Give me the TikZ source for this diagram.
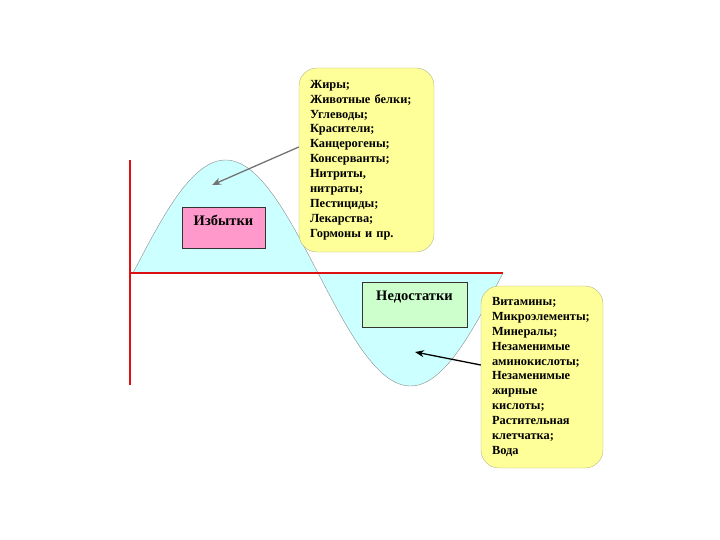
\documentclass[tikz,border=0pt]{standalone}
\usepackage{fontspec}
\setmainfont{Liberation Serif}
\usetikzlibrary{arrows.meta}
\definecolor{wavefill}{HTML}{CCFFFF}
\definecolor{notefill}{HTML}{FFFF99}
\definecolor{notedraw}{HTML}{B5B58A}
\definecolor{excessfill}{HTML}{FF99CC}
\definecolor{lackfill}{HTML}{CCFFCC}
\definecolor{axisred}{HTML}{DD1111}
\begin{document}
\begin{tikzpicture}[x=1pt, y=-1pt,
            note/.style = {draw=notedraw, fill=notefill, rounded corners=18pt,
                align=left, inner xsep=11pt, inner ysep=0pt,
                font=\bfseries\fontsize{12.4}{14.9}\selectfont},
            tag/.style = {draw=black!80, inner xsep=0pt, inner ysep=4pt,
                text height=14pt, font=\bfseries\fontsize{14.5}{16}\selectfont},
            axis/.style = {draw=axisred, line width=2.8pt},
            pointer/.style = {-{Stealth[length=9pt,width=7pt]}, line width=1.3pt}]
            \useasboundingbox (0,0) rectangle (720,540);
            % wave
            \filldraw[fill=wavefill, draw=black!45, line width=0.4pt]
                plot[domain=0:360, samples=120] ({133+\x*1.02778},{273-113*sin(\x)}) -- cycle;
            \coordinate (origin) at (130,273);
            \coordinate (top) at (130,160);
            \coordinate (bottom) at (130,385);
            \coordinate (right) at (503,273);
            \path[axis] (top) -- (bottom) (origin) -- (right);
            \coordinate (hill) at (212,185);
            \coordinate (valley) at (415,352);
            \node[tag, fill=excessfill, minimum width=83pt, text depth=19pt,
                anchor=north] (excess) at (223.5,207) {Избытки};
            \node[tag, fill=lackfill, minimum width=105pt, text depth=23pt,
                anchor=north] (lack) at (414.5,282) {Недостатки};
            \node[note, text width=113pt, minimum height=184pt] (harm) at (366.5,160)
                {Жиры;\\Животные белки;\\Углеводы;\\Красители;\\Канцерогены;\\
                 Консерванты;\\Нитриты,\\нитраты;\\Пестициды;\\Лекарства;\\Гормоны и пр.};
            \node[note, text width=100pt, minimum height=182pt] (need) at (542,377)
                {Витамины;\\Микроэлементы;\\Минералы;\\Незаменимые\\аминокислоты;\\
                 Незаменимые\\жирные\\кислоты;\\Растительная\\клетчатка;\\Вода};
            \draw[pointer, draw=black!55] (harm.west |- 0,147) -- (hill);
            \draw[pointer] (need.west |- 0,365) -- (valley);
\end{tikzpicture}
\end{document}
